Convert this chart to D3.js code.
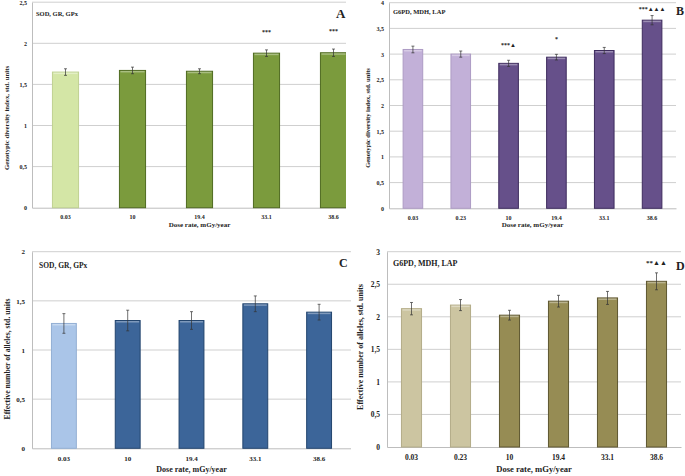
<!DOCTYPE html>
<html><head><meta charset="utf-8">
<script src="https://cdn.jsdelivr.net/npm/d3@7"></script>
<style>body{margin:0;background:#fff}svg{display:block}text{font-family:"Liberation Serif","Times New Roman",serif;font-weight:bold;fill:#222}</style>
</head><body>
<svg id="c" width="685" height="476"></svg>
<script>
// ---- data ----
const dosesAC = ["0.03","10","19.4","33.1","38.6"];
const dosesBD = ["0.03","0.23","10","19.4","33.1","38.6"];
const gdiA = [1.65,1.67,1.66,1.88,1.885];
const errA = [0.04,0.04,0.03,0.04,0.045];
const sigA = ["","","","***","***"];
const gdiB = [3.09,3.00,2.82,2.94,3.07,3.66];
const errB = [0.065,0.06,0.06,0.055,0.06,0.09];
const sigB = ["","","***▲","*","","***▲▲▲"];
const neC = [1.27,1.30,1.30,1.47,1.385];
const errC = [0.10,0.105,0.09,0.08,0.08];
const sigC = ["","","","",""];
const neD = [2.125,2.18,2.025,2.24,2.29,2.545];
const errD = [0.095,0.085,0.075,0.09,0.10,0.13];
const sigD = ["","","","","","**▲▲"];
const ticksA = [0,0.5,1,1.5,2,2.5];
const ticksB = [0,0.5,1,1.5,2,2.5,3,3.5,4];
const ticksC = [0,0.5,1,1.5,2];
const ticksD = [0,0.5,1,1.5,2,2.5,3];
const yTitleGDI = "Genotypic diversity index, std. units";
const yTitleNE = "Effective number of alleles, std. units";
const xTitle = "Dose rate, mGy/year";

const svg = d3.select("#c");
const fmt = v => String(v).replace(".", ",");

function panel(o){
  const g = svg.append("g");
  const cid = "clip" + o.letter;
  svg.append("clipPath").attr("id", cid).append("rect")
    .attr("x", o.clip[0]).attr("y", 0).attr("width", o.clip[1]-o.clip[0]).attr("height", 476);
  const p = g.append("g").attr("clip-path", `url(#${cid})`);
  const x = d3.scaleBand().domain(o.cats).range([o.x0, o.x1]).paddingInner(o.pad).paddingOuter(o.pad/2);
  const y = d3.scaleLinear().domain([0, o.ticks[o.ticks.length-1]]).range([o.yb, o.yt]);
  // grid
  p.selectAll(".grid").data(o.ticks.filter(t=>t>0)).join("line")
    .attr("x1", o.x0).attr("x2", o.x1).attr("y1", d=>y(d)).attr("y2", d=>y(d))
    .attr("stroke", "#cfcfcf").attr("stroke-width", 1);
  // axes
  const ya = d3.axisLeft(y).tickValues(o.ticks).tickFormat(fmt).tickSize(0).tickPadding(o.tpad);
  const ag = g.append("g").attr("transform", `translate(${o.x0},0)`).call(ya);
  ag.select(".domain").attr("stroke", "#bdbdbd");
  ag.selectAll("text").style("font-size", o.tfs + "px").attr("fill", "#222");
  const xa = d3.axisBottom(x).tickSize(0).tickPadding(o.xpad);
  const xg = p.append("g").attr("transform", `translate(0,${o.yb})`).call(xa);
  xg.select(".domain").attr("stroke", "#bdbdbd");
  xg.selectAll("text").style("font-size", o.tfs + "px").attr("fill", "#222");
  // bars
  const data = o.cats.map((c,i)=>({c, v:o.vals[i], e:o.errs[i], s:o.sig[i], ctrl:i<o.nCtrl}));
  const bw = x.bandwidth();
  const bars = p.selectAll(".bar").data(data).join("g");
  bars.append("rect").attr("x", d=>x(d.c)).attr("width", bw)
    .attr("y", d=>y(d.v)).attr("height", d=>o.yb - y(d.v))
    .attr("fill", d=>d.ctrl ? o.light : o.dark)
    .attr("stroke", d=>d.ctrl ? o.lightEdge : o.darkEdge).attr("stroke-width", 1);
  bars.append("rect").attr("x", d=>x(d.c)+1).attr("width", bw-2)
    .attr("y", d=>y(d.v)+0.5).attr("height", 1.5)
    .attr("fill", "#fff").attr("opacity", 0.35);
  // error bars
  const eb = bars.append("g").attr("stroke", "#333").attr("stroke-width", 0.7);
  eb.append("line").attr("x1", d=>x(d.c)+bw/2).attr("x2", d=>x(d.c)+bw/2)
    .attr("y1", d=>y(d.v+d.e)).attr("y2", d=>y(d.v-d.e));
  eb.append("line").attr("x1", d=>x(d.c)+bw/2-1.5).attr("x2", d=>x(d.c)+bw/2+1.5)
    .attr("y1", d=>y(d.v+d.e)).attr("y2", d=>y(d.v+d.e));
  eb.append("line").attr("x1", d=>x(d.c)+bw/2-1.5).attr("x2", d=>x(d.c)+bw/2+1.5)
    .attr("y1", d=>y(d.v-d.e)).attr("y2", d=>y(d.v-d.e));
  // significance
  bars.filter(d=>d.s).append("text")
    .attr("x", d=>x(d.c)+bw/2 + (d.s.includes("▲") ? o.sigShift : 0))
    .attr("y", d=>Math.max(y(d.v+d.e) - o.sigOff, o.sigMin))
    .attr("text-anchor", "middle").style("font-size", o.sfs + "px")
    .text(d=>d.s);
  // titles
  g.append("text").attr("x", o.tx).attr("y", o.ty).style("font-size", o.hfs + "px").text(o.title);
  g.append("text").attr("x", (o.x0+o.x1)/2 + o.xtShift).attr("y", o.xty).attr("text-anchor", "middle")
    .style("font-size", o.xfs + "px").text(xTitle);
  g.append("text").attr("transform", `translate(${o.ytx},${o.yty}) rotate(-90)`).attr("text-anchor", "middle")
    .style("font-size", o.yfs + "px").text(o.ytitle);
  g.append("text").attr("x", o.lx).attr("y", o.ly).style("font-size", o.lfs + "px").text(o.letter);
}

panel({letter:"A", cats:dosesAC, vals:gdiA, errs:errA, sig:sigA, nCtrl:1, ticks:ticksA,
  x0:32, x1:367, yb:207.7, yt:2.2, pad:0.61, clip:[0,346],
  light:"#d4e6a6", lightEdge:"#bfd192", dark:"#7b9b3d", darkEdge:"#4f6a20",
  tfs:6, tpad:5, xpad:7, sfs:6, sigOff:16, sigMin:0, sigShift:0,
  title:"SOD, GR, GPx", tx:36, ty:16, hfs:6.5, xty:227, xfs:7, xtShift:0,
  ytitle:yTitleGDI, ytx:9, yty:118, yfs:6.8, lx:336, ly:18, lfs:13});
panel({letter:"B", cats:dosesBD, vals:gdiB, errs:errB, sig:sigB, nCtrl:2, ticks:ticksB,
  x0:389, x1:676, yb:208.3, yt:2.7, pad:0.59, clip:[387,685],
  light:"#c2b0d8", lightEdge:"#ad9bc4", dark:"#66508a", darkEdge:"#3e2c5e",
  tfs:6, tpad:5, xpad:7, sfs:6, sigOff:13, sigMin:11, sigShift:0,
  title:"G6PD, MDH, LAP", tx:393, ty:14, hfs:6.5, xty:227, xfs:7, xtShift:0,
  ytitle:yTitleGDI, ytx:370, yty:118, yfs:6.5, lx:676, ly:15, lfs:12});
panel({letter:"C", cats:dosesAC, vals:neC, errs:errC, sig:sigC, nCtrl:1, ticks:ticksC,
  x0:32, x1:351, yb:448.3, yt:251.7, pad:0.61, clip:[0,351],
  light:"#aac5e8", lightEdge:"#93afd4", dark:"#3c6599", darkEdge:"#23456e",
  tfs:7, tpad:7, xpad:8, sfs:7, sigOff:12, sigMin:0, sigShift:0,
  title:"SOD, GR, GPx", tx:39, ty:268, hfs:7.5, xty:472, xfs:8, xtShift:0,
  ytitle:yTitleNE, ytx:10, yty:359, yfs:7.7, lx:339, ly:267, lfs:12});
panel({letter:"D", cats:dosesBD, vals:neD, errs:errD, sig:sigD, nCtrl:2, ticks:ticksD,
  x0:387, x1:681, yb:447, yt:251.7, pad:0.59, clip:[385,685],
  light:"#ccc5a1", lightEdge:"#b3ac88", dark:"#968c54", darkEdge:"#5e5630",
  tfs:7.5, tpad:7, xpad:8, sfs:7, sigOff:8, sigMin:0, sigShift:0,
  title:"G6PD, MDH, LAP", tx:393, ty:266, hfs:8, xty:472, xfs:8.6, xtShift:0,
  ytitle:yTitleNE, ytx:363, yty:347, yfs:8, lx:676, ly:270, lfs:12});
</script>
</body></html>
